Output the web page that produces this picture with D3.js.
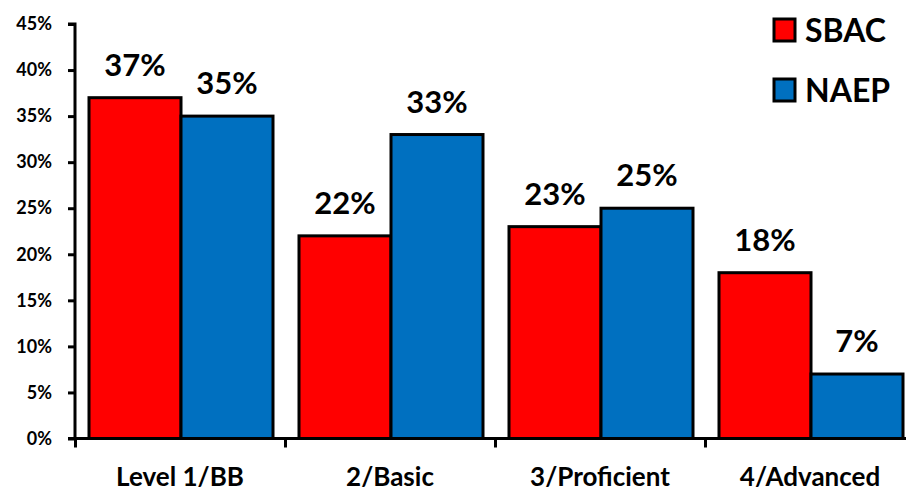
<!DOCTYPE html>
<html><head><meta charset="utf-8">
<script src="https://cdn.jsdelivr.net/npm/d3@7"></script>
<style>body{margin:0;background:#fff}svg{display:block}text{font-family:Lato,"Open Sans",sans-serif;font-weight:bold;fill:#000}</style>
</head><body><svg id="c" width="906" height="492"></svg>
<script>
const categories = ["Level 1/BB","2/Basic","3/Proficient","4/Advanced"];
const seriesNames = ["SBAC","NAEP"];
const sbac = [37,22,23,18];
const naep = [35,33,25,7];
const yTicks = [0,5,10,15,20,25,30,35,40,45];
const colors = ["#FF0000","#0070C0"];

const svg = d3.select("#c");
const x0 = 75, x1 = 915, yTop = 24, yBot = 438.5;
const x = d3.scaleBand().domain(categories).range([x0,x1]).paddingInner(0).paddingOuter(0);
const xs = d3.scaleBand().domain(seriesNames).range([14,x.bandwidth()-12]).paddingInner(0).paddingOuter(0);
const y = d3.scaleLinear().domain([0,45]).range([yBot,yTop]);

const data = categories.map((c,i)=>({c, vals:[sbac[i],naep[i]]}));
const g = svg.selectAll("g.grp").data(data).enter().append("g").attr("transform",d=>`translate(${x(d.c)},0)`);
g.selectAll("rect").data(d=>d.vals.map((v,j)=>({v,s:seriesNames[j],j}))).enter().append("rect")
 .attr("x",d=>xs(d.s)).attr("width",xs.bandwidth()).attr("y",d=>y(d.v)).attr("height",d=>y(0)-y(d.v))
 .attr("fill",d=>colors[d.j]).attr("stroke","#000").attr("stroke-width",3);
g.selectAll("text.v").data(d=>d.vals.map((v,j)=>({v,s:seriesNames[j],j}))).enter().append("text")
 .attr("class","v").attr("x",d=>xs(d.s)+xs.bandwidth()/2).attr("y",d=>y(d.v)-22)
 .attr("text-anchor","middle").style("font-size","31px").text(d=>d.v+"%");

// y axis
const ya = d3.axisLeft(y).tickValues(yTicks).tickFormat(d=>d+"%").tickSize(7).tickPadding(16);
const yg = svg.append("g").attr("transform",`translate(${x0},0)`).call(ya);
yg.select(".domain").attr("stroke","#000").attr("stroke-width",3).attr("d",`M-7,${yTop}H0V${yBot}H-7`);
yg.selectAll(".tick line").attr("stroke","#000").attr("stroke-width",3);
yg.selectAll(".tick text").style("font-size","18px").style("font-family","Lato,sans-serif").style("font-weight","bold").attr("fill","#000");

// x axis
const xa = d3.axisBottom(d3.scaleLinear().domain([0,4]).range([x0,x1])).tickValues([0,1,2,3,4]).tickSize(9).tickFormat("");
const xg = svg.append("g").attr("transform",`translate(0,${yBot})`).call(xa);
xg.select(".domain").attr("stroke","#000").attr("stroke-width",3).attr("d",`M${x0},0H${x1}`);
xg.selectAll(".tick line").attr("stroke","#000").attr("stroke-width",3);
svg.selectAll("text.cat").data(categories).enter().append("text").attr("class","cat")
 .attr("x",d=>x(d)+x.bandwidth()/2).attr("y",486).attr("text-anchor","middle").style("font-size","26px").text(d=>d);

// legend
const lg = svg.append("g");
seriesNames.forEach((s,i)=>{
  const cy = 30 + i*60;
  lg.append("rect").attr("x",774).attr("y",cy-11).attr("width",21).attr("height",22)
    .attr("fill",colors[i]).attr("stroke","#000").attr("stroke-width",3);
  lg.append("text").attr("x",805).attr("y",cy+12).style("font-size","32px").text(s);
});
</script></body></html>
